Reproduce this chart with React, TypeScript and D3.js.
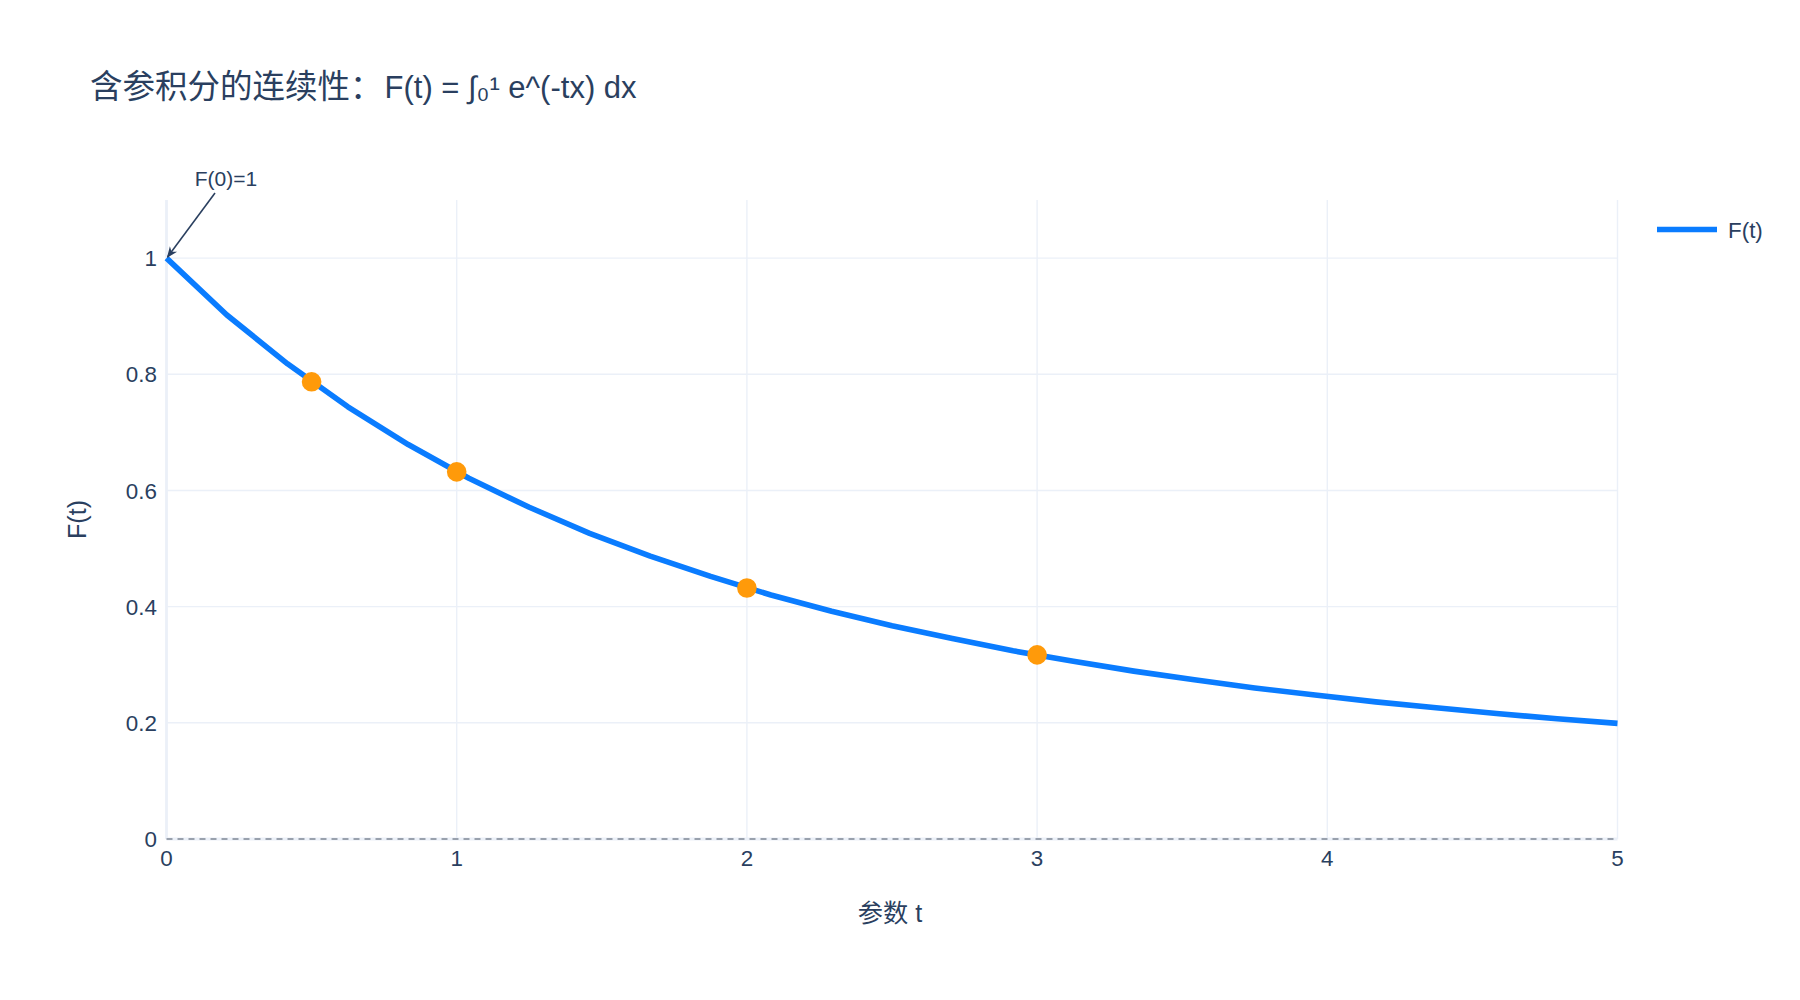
import React from "react";
import * as d3 from "d3";

// values
const tValues = [
  0, 0.208, 0.417, 0.625, 0.833, 1.042, 1.25, 1.458, 1.667, 1.875, 2.083, 2.292,
  2.5, 2.708, 2.917, 3.125, 3.333, 3.542, 3.75, 3.958, 4.167, 4.375, 4.583, 4.792, 5,
];
const fValues = [
  1, 0.902, 0.818, 0.744, 0.679, 0.621, 0.571, 0.526, 0.487, 0.452, 0.42, 0.392,
  0.367, 0.345, 0.324, 0.306, 0.289, 0.274, 0.26, 0.248, 0.236, 0.226, 0.216, 0.207, 0.199,
];
const markT = [0.5, 1, 2, 3];
const markF = [0.787, 0.632, 0.432, 0.317];
const xTicks = [0, 1, 2, 3, 4, 5];
const yTicks = [0, 0.2, 0.4, 0.6, 0.8, 1];

const W = 1800;
const H = 1000;
const left = 166.5;
const right = 1617.5;
const top = 200;
const bottom = 839;

const FONT = '"Liberation Sans", Arial, "Noto Sans CJK SC", sans-serif';
const TEXT = "#2a3f5f";
const GRID = "#EBF0F8";

const App = () => {
  const x = d3.scaleLinear().domain([0, 5]).range([left, right]);
  const y = d3.scaleLinear().domain([0, 1.1]).range([bottom, top]);

  const line = d3
    .line<number>()
    .x((d, i) => x(tValues[i]))
    .y((d) => y(d));

  return (
    <svg
      width={W}
      height={H}
      style={{ position: "absolute", left: 0, top: 0, background: "#fff" }}
      fontFamily={FONT}
    >
      <defs>
        <marker id="arrow" viewBox="0 0 10 10" refX="9" refY="5" markerWidth="7" markerHeight="7" orient="auto">
          <path d="M0,1 L10,5 L0,9 L3,5 Z" fill={TEXT} />
        </marker>
      </defs>

      {/* grid */}
      {xTicks.filter((t) => t !== 0).map((t) => (
        <line key={"gx" + t} x1={x(t)} x2={x(t)} y1={top} y2={bottom} stroke={GRID} strokeWidth={1.4} />
      ))}
      {yTicks.filter((t) => t !== 0).map((t) => (
        <line key={"gy" + t} x1={left} x2={right} y1={y(t)} y2={y(t)} stroke={GRID} strokeWidth={1.4} />
      ))}
      {/* zero lines */}
      <line x1={x(0)} x2={x(0)} y1={top} y2={bottom} stroke={GRID} strokeWidth={2.8} />
      <line x1={left} x2={right} y1={y(0)} y2={y(0)} stroke={GRID} strokeWidth={2.8} />
      <line x1={left} x2={right} y1={y(0)} y2={y(0)} stroke="#7f8794" strokeWidth={1.4} strokeDasharray="6,5" />

      {/* curve */}
      <path d={line(fValues) || ""} fill="none" stroke="#0a7cff" strokeWidth={5.6} strokeLinejoin="round" />
      {markT.map((t, i) => (
        <circle key={"m" + t} cx={x(t)} cy={y(markF[i])} r={9.8} fill="#ff9a0a" />
      ))}

      {/* tick labels */}
      {xTicks.map((t) => (
        <text key={"tx" + t} x={x(t)} y={866} textAnchor="middle" fontSize={22.4} fill={TEXT}>
          {t}
        </text>
      ))}
      {yTicks.map((t) => (
        <text key={"ty" + t} x={157} y={y(t)} dy="0.36em" textAnchor="end" fontSize={22.4} fill={TEXT}>
          {t}
        </text>
      ))}

      {/* axis titles */}
      <text x={(left + right) / 2 - 2} y={922} textAnchor="middle" fontSize={25.2} fill={TEXT}>
        参数 t
      </text>
      <text transform={`translate(86,${(top + bottom) / 2}) rotate(-90)`} textAnchor="middle" fontSize={25.2} fill={TEXT}>
        F(t)
      </text>

      {/* title */}
      <text x={90} y={98} fontSize={31} fill={TEXT}>
        <tspan fontSize={32.5}>含参积分的连续性：</tspan>
        <tspan dx={2}>F(t) = ∫₀¹ e^(-tx) dx</tspan>
      </text>

      {/* annotation */}
      <line x1={215} y1={193} x2={x(0) + 1} y2={y(1) - 1} stroke={TEXT} strokeWidth={1.6} markerEnd="url(#arrow)" />
      <text x={226} y={186} textAnchor="middle" fontSize={21} fill={TEXT}>
        F(0)=1
      </text>

      {/* legend */}
      <line x1={1657} x2={1717} y1={229.5} y2={229.5} stroke="#0a7cff" strokeWidth={5.6} />
      <text x={1728} y={229.5} dy="0.36em" fontSize={22.4} fill={TEXT}>
        F(t)
      </text>
    </svg>
  );
};

export default App;
